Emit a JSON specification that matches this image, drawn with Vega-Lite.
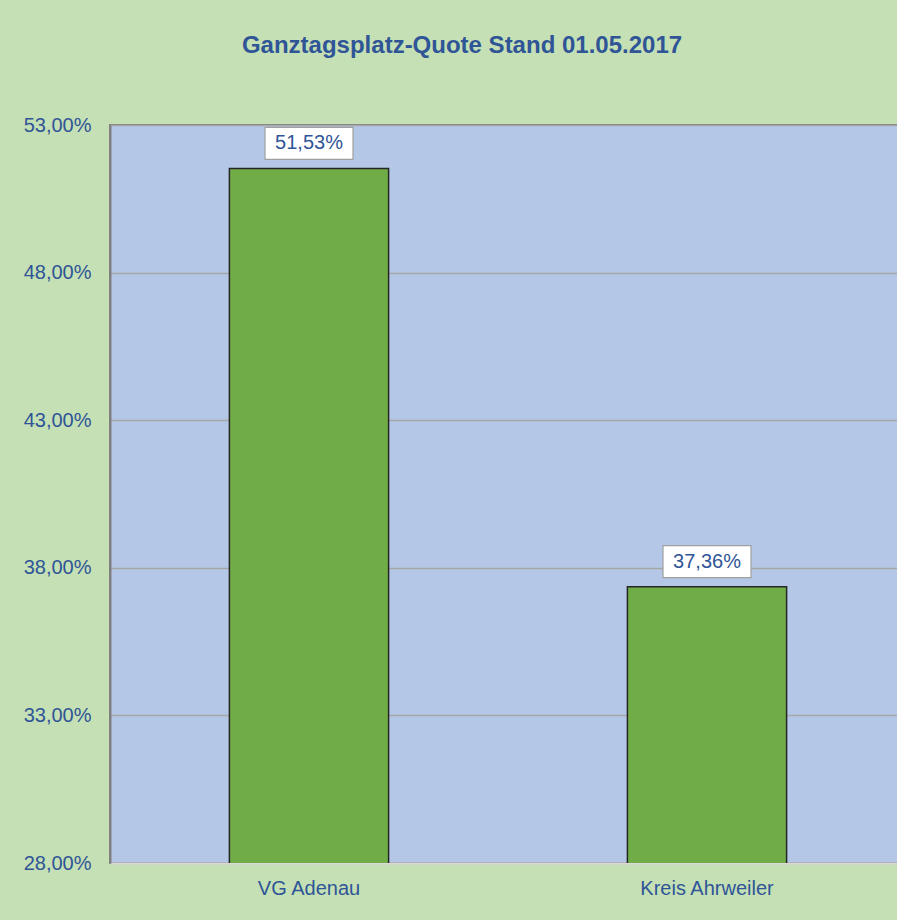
{
  "$schema": "https://vega.github.io/schema/vega-lite/v6.json",
  "width": 796,
  "height": 738,
  "autosize": {"type": "none"},
  "padding": {"left": 110, "top": 125, "right": 0, "bottom": 57},
  "background": "#c5e0b4",
  "title": {
    "text": "Ganztagsplatz-Quote Stand 01.05.2017",
    "font": "Liberation Sans",
    "fontSize": 24,
    "fontWeight": "bold",
    "color": "#2f5597",
    "anchor": "middle",
    "dx": -46,
    "offset": 57
  },
  "config": {
    "view": {"fill": "#b4c7e7", "stroke": "#808080", "strokeWidth": 2},
    "font": "Liberation Sans"
  },
  "data": {
    "values": [
      {"region": "VG Adenau", "quote": 51.53, "label": "51,53%"},
      {"region": "Kreis Ahrweiler", "quote": 37.36, "label": "37,36%"}
    ]
  },
  "encoding": {
    "x": {
      "field": "region",
      "type": "nominal",
      "sort": null,
      "scale": {"paddingInner": 0.6, "paddingOuter": 0.3},
      "axis": {
        "title": null,
        "labelAngle": 0,
        "labelFont": "Liberation Sans",
        "labelFontSize": 20,
        "labelColor": "#2f5597",
        "labelPadding": 15,
        "ticks": false,
        "domainColor": "#d9d9d9",
        "domainWidth": 2
      }
    },
    "y": {
      "field": "quote",
      "type": "quantitative",
      "scale": {"domain": [28, 53], "nice": false, "zero": false},
      "axis": {
        "title": null,
        "values": [28, 33, 38, 43, 48, 53],
        "labelExpr": "replace(format(datum.value, '.2f'), '.', ',') + '%'",
        "labelFont": "Liberation Sans",
        "labelFontSize": 20,
        "labelColor": "#2f5597",
        "labelPadding": 19,
        "ticks": false,
        "domainColor": "#808080",
        "domainWidth": 2,
        "gridColor": "#a6a6a6",
        "gridWidth": 1.5
      }
    }
  },
  "layer": [
    {
      "mark": {"type": "bar", "clip": true, "color": "#70ad47", "stroke": "#262626", "strokeWidth": 1.5}
    },
    {
      "mark": {
        "type": "point",
        "shape": "M-1,-0.3636L1,-0.3636L1,0.3636L-1,0.3636Z",
        "size": 7744,
        "filled": true,
        "fill": "#ffffff",
        "stroke": "#a0a0a0",
        "strokeWidth": 1.2,
        "opacity": 1,
        "yOffset": -25
      }
    },
    {
      "mark": {
        "type": "text",
        "dy": -25,
        "font": "Liberation Sans",
        "fontSize": 20,
        "color": "#2f5597",
        "baseline": "middle"
      },
      "encoding": {"text": {"field": "label"}}
    }
  ]
}
